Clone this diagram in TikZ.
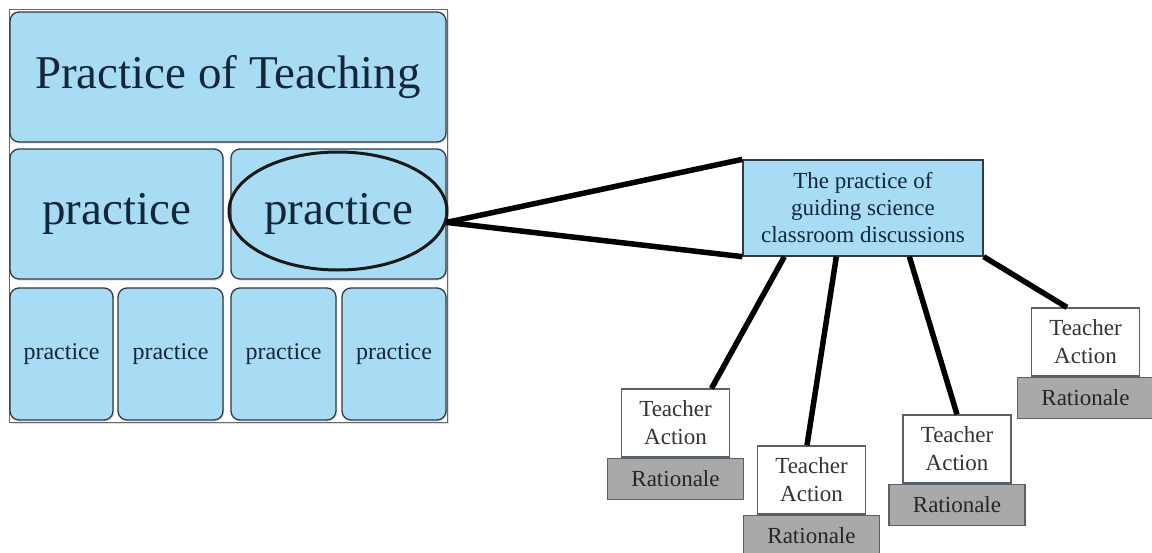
\documentclass[tikz,border=0pt]{standalone}
\usepackage{fontspec}
\setmainfont{Liberation Serif}
\newfontfamily\labelfont{Liberation Serif}
\usetikzlibrary{shadows,shapes.geometric}
\definecolor{paleblue}{HTML}{A8DCF5}
\definecolor{edge}{HTML}{2E3A44}
\definecolor{ink}{HTML}{14263A}
\definecolor{rgray}{HTML}{A9A9A9}
\begin{document}
\begin{tikzpicture}[x=1pt,y=-1pt,
  frame/.style={draw=gray!80!black, line width=0.9pt, fill=white, inner sep=0pt,
    drop shadow={opacity=0.25, shadow xshift=1.5pt, shadow yshift=-1.5pt}},
  tile/.style={draw=edge, line width=1.3pt, fill=paleblue, rounded corners=9pt,
    inner sep=0pt, text=ink,
    drop shadow={opacity=0.25, shadow xshift=1.2pt, shadow yshift=-1.5pt}},
  bigtxt/.style={font=\labelfont\fontsize{47}{56}\selectfont},
  smalltxt/.style={font=\labelfont\fontsize{24}{28}\selectfont},
  hubbox/.style={draw=edge, line width=1.3pt, fill=paleblue, inner sep=0pt,
    minimum width=240pt, minimum height=96pt, align=center, text=ink,
    font=\labelfont\fontsize{23}{27}\selectfont},
  actionbox/.style={draw=edge!80, line width=1.2pt, fill=white, inner sep=0pt,
    minimum width=108pt, minimum height=68pt, align=center, text=black!80,
    font=\labelfont\fontsize{23}{28}\selectfont},
  reasonbox/.style={draw=edge!80, line width=1.2pt, fill=rgray, inner sep=0pt,
    minimum width=136pt, minimum height=41pt, text=black!85,
    font=\labelfont\fontsize{23}{28}\selectfont, anchor=north},
  link/.style={line width=5.5pt, black},
  ring/.style={ellipse, draw=black!90, line width=3pt, inner sep=0pt,
    minimum width=218pt, minimum height=118pt}
]
\useasboundingbox (0,0) rectangle (1152,552);
\fill[white] (0,0) rectangle (1152,552);

% left panel: the practice of teaching split into practices
\node[frame, minimum width=438pt, minimum height=413pt] (panel) at (228,215.5) {};
\node[tile, bigtxt, minimum width=436pt, minimum height=130pt] (teach) at (228,77) {Practice of Teaching};
\node[tile, bigtxt, minimum width=213pt, minimum height=130pt] (pa) at (116.5,214) {practice};
\node[tile, bigtxt, minimum width=215pt, minimum height=130pt] (pb) at (338.5,214) {practice};
\node[tile, smalltxt, minimum width=103pt, minimum height=132pt] (q1) at (61.5,354) {practice};
\node[tile, smalltxt, minimum width=105pt, minimum height=132pt] (q2) at (170.5,354) {practice};
\node[tile, smalltxt, minimum width=105pt, minimum height=132pt] (q3) at (283.5,354) {practice};
\node[tile, smalltxt, minimum width=104pt, minimum height=132pt] (q4) at (394,354) {practice};
\node[ring] (focus) at (338,211) {};

% the highlighted practice
\node[hubbox] (hub) at (863,208) {The practice of\\guiding science\\classroom discussions};

% teacher actions with their rationales
\node[actionbox] (a1) at (675.5,423) {Teacher\\Action};
\node[reasonbox] (r1) at (a1.south) {Rationale};
\node[actionbox] (a2) at (811.5,480) {Teacher\\Action};
\node[reasonbox] (r2) at (a2.south) {Rationale};
\node[actionbox] (a3) at (957,449) {Teacher\\Action};
\node[reasonbox] (r3) at (a3.south) {Rationale};
\node[actionbox] (a4) at (1085.5,342) {Teacher\\Action};
\node[reasonbox] (r4) at (a4.south) {Rationale};

% connectors
\draw[link] (focus.354) -- (hub.north west);
\draw[link] (focus.354) -- (hub.south west);
\draw[link] ([xshift=42pt]hub.south west) -- ([xshift=36pt]a1.north);
\draw[link] ([xshift=94pt]hub.south west) -- ([xshift=-4.5pt]a2.north);
\draw[link] ([xshift=167pt]hub.south west) -- (a3.north);
\draw[link] (hub.south east) -- ([xshift=-18.5pt]a4.north);
\end{tikzpicture}
\end{document}
